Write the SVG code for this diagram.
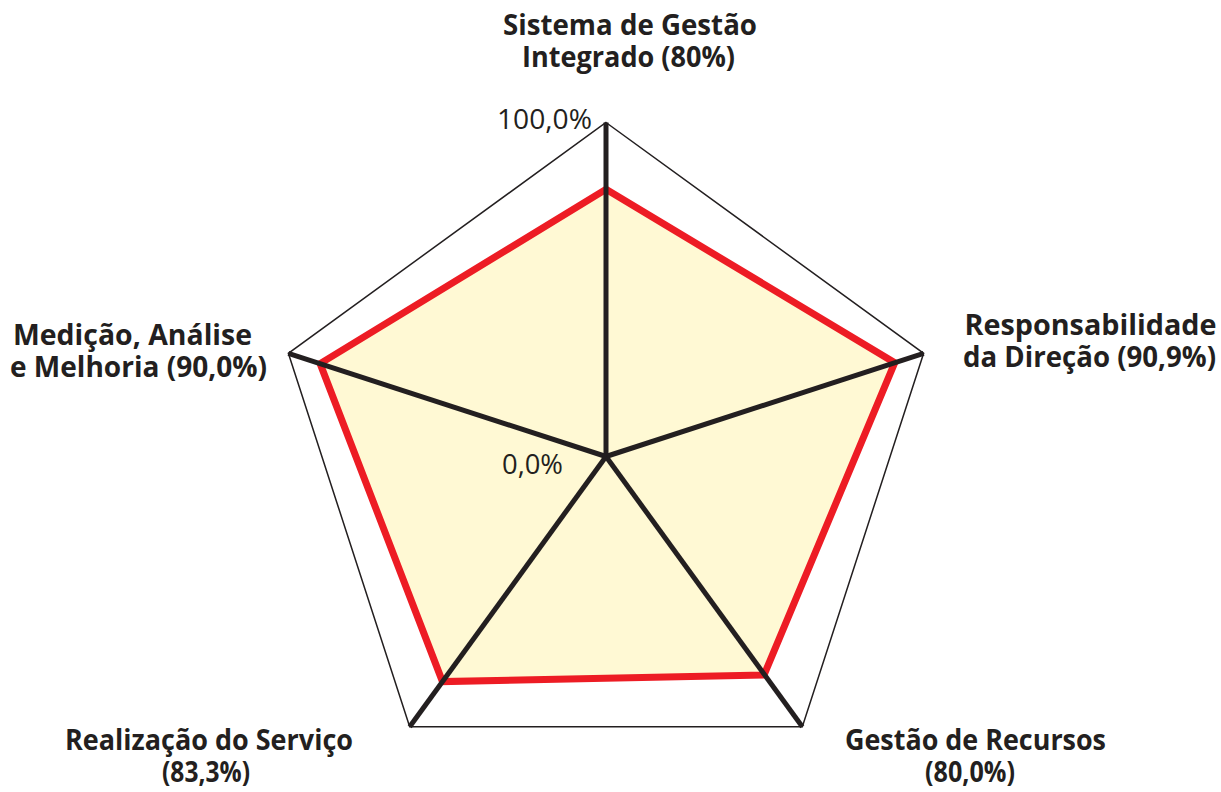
<svg xmlns="http://www.w3.org/2000/svg" width="1221" height="792" viewBox="0 0 1221 792">
<style>
.lbl{font-family:"Open Sans","Liberation Sans",sans-serif;font-weight:700;font-size:29px;fill:#231F20;text-anchor:middle}
.tick{font-family:"Open Sans","Liberation Sans",sans-serif;font-weight:400;font-size:28px;fill:#231F20}
.axis{stroke:#231F20;stroke-width:5;stroke-linecap:butt;fill:none}
</style>
<rect width="1221" height="792" fill="#FFFFFF"/>
<g id="grid">
<polygon points="606,122.5 923.65,353.29 802.32,726.71 409.68,726.71 288.35,353.29" fill="none" stroke="#231F20" stroke-width="1.5" stroke-linejoin="miter"/>
</g>
<g id="series">
<polygon points="606,189.3 894.75,362.68 764,675 442.47,681.58 320.11,363.61" fill="#FFF9D4" stroke="#ED1C24" stroke-width="7" stroke-linejoin="miter"/>
</g>
<g id="connectors">
<line class="axis" x1="606" y1="456.5" x2="606" y2="122.5"/>
<line class="axis" x1="606" y1="456.5" x2="923.65" y2="353.29"/>
<line class="axis" x1="606" y1="456.5" x2="802.32" y2="726.71"/>
<line class="axis" x1="606" y1="456.5" x2="409.68" y2="726.71"/>
<line class="axis" x1="606" y1="456.5" x2="288.35" y2="353.29"/>
</g>
<g id="ticks">
<text class="tick" x="497" y="129" textLength="95" lengthAdjust="spacingAndGlyphs">100,0%</text>
<text class="tick" x="502" y="474" textLength="61" lengthAdjust="spacingAndGlyphs">0,0%</text>
</g>
<g id="node-sgi">
<text class="lbl" x="630" y="35" textLength="254" lengthAdjust="spacingAndGlyphs">Sistema de Gestão</text>
<text class="lbl" x="628.5" y="67" textLength="213" lengthAdjust="spacingAndGlyphs">Integrado (80%)</text>
</g>
<g id="node-direcao">
<text class="lbl" x="1090.5" y="335" textLength="252" lengthAdjust="spacingAndGlyphs">Responsabilidade</text>
<text class="lbl" x="1089.5" y="367" textLength="253" lengthAdjust="spacingAndGlyphs">da Direção (90,9%)</text>
</g>
<g id="node-recursos">
<text class="lbl" x="975.5" y="750" textLength="261" lengthAdjust="spacingAndGlyphs">Gestão de Recursos</text>
<text class="lbl" x="970" y="782" textLength="90" lengthAdjust="spacingAndGlyphs">(80,0%)</text>
</g>
<g id="node-servico">
<text class="lbl" x="209" y="750" textLength="288" lengthAdjust="spacingAndGlyphs">Realização do Serviço</text>
<text class="lbl" x="206" y="782" textLength="88" lengthAdjust="spacingAndGlyphs">(83,3%)</text>
</g>
<g id="node-medicao">
<text class="lbl" x="132.5" y="345" textLength="239" lengthAdjust="spacingAndGlyphs">Medição, Análise</text>
<text class="lbl" x="138.5" y="377" textLength="257" lengthAdjust="spacingAndGlyphs">e Melhoria (90,0%)</text>
</g>
</svg>
